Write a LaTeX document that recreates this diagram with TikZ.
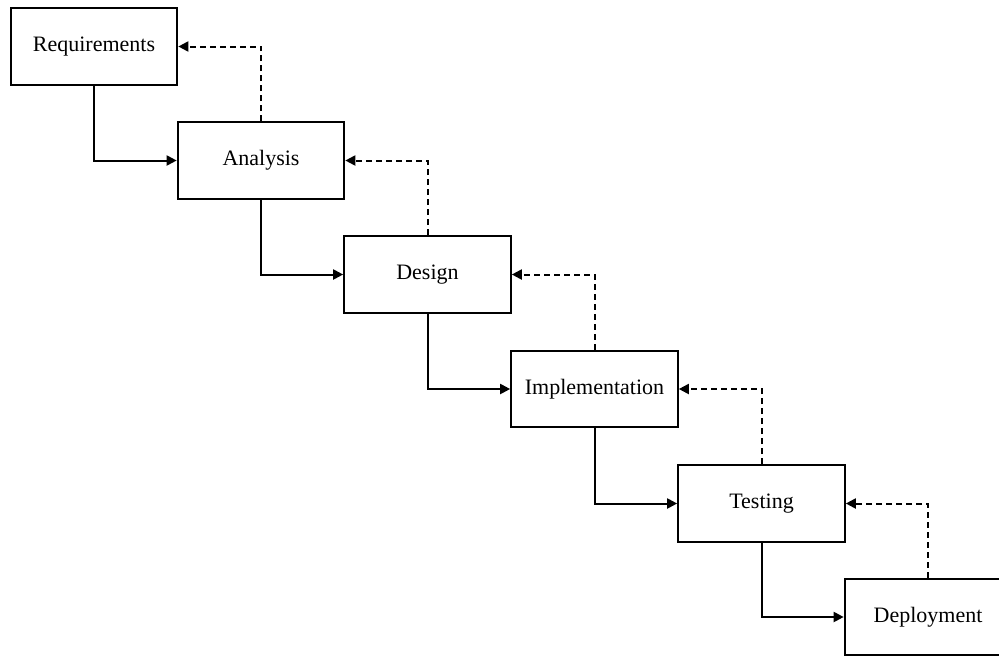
\documentclass[tikz,border=0pt]{standalone}
\usepackage{fontspec}
\setmainfont{Liberation Serif}
\usetikzlibrary{arrows.meta}
\tikzset{
  phase/.style = {draw=black, line width=1.5pt, fill=white, minimum width=125pt, minimum height=57.5pt, inner sep=0pt, align=center, font=\fontsize{16.5}{20}\selectfont},
  flow/.style = {line width=1.5pt, -{Triangle[length=7.5pt,width=7.5pt]}},
  back/.style = {flow, dash pattern=on 4.5pt off 3pt}
}
\begin{document}
\begin{tikzpicture}[x=0.75pt,y=-0.75pt]
  \useasboundingbox (0,0) rectangle (999,657);
  \clip (0,0) rectangle (999,657);
  % phases
  \node[phase] (req) at (94,46.5) {Requirements};
  \node[phase] (ana) at (261,160.5) {Analysis};
  \node[phase] (des) at (427.5,274.5) {Design};
  \node[phase] (imp) at (594.5,389) {Implementation};
  \node[phase] (tes) at (761.5,503.5) {Testing};
  \node[phase] (dep) at (928,617) {Deployment};
  % forward
  \draw[flow] (req.south) |- (ana.west);
  \draw[flow] (ana.south) |- (des.west);
  \draw[flow] (des.south) |- (imp.west);
  \draw[flow] (imp.south) |- (tes.west);
  \draw[flow] (tes.south) |- (dep.west);
  % feedback
  \draw[back] (ana.north) |- (req.east);
  \draw[back] (des.north) |- (ana.east);
  \draw[back] (imp.north) |- (des.east);
  \draw[back] (tes.north) |- (imp.east);
  \draw[back] (dep.north) |- (tes.east);
\end{tikzpicture}
\end{document}
